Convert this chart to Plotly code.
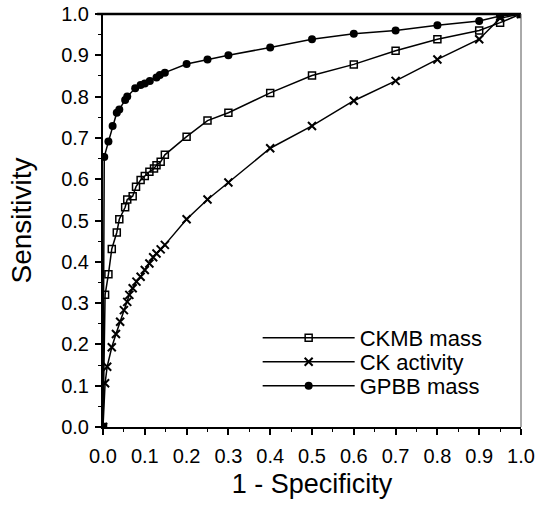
import plotly.graph_objects as go

# CKMB mass (open squares)
ckmb_x = [0.0, 0.005, 0.013, 0.021, 0.033, 0.039, 0.053, 0.058, 0.071, 0.079, 0.09, 0.10, 0.111,
          0.122, 0.128, 0.138, 0.148, 0.20, 0.25, 0.30, 0.40, 0.50, 0.60, 0.70, 0.80, 0.90, 0.95, 1.0]
ckmb_y = [0.0, 0.32, 0.37, 0.431, 0.471, 0.503, 0.532, 0.551, 0.559, 0.582, 0.598, 0.608, 0.618,
          0.626, 0.634, 0.642, 0.659, 0.703, 0.742, 0.761, 0.809, 0.851, 0.878, 0.911, 0.939, 0.96, 0.979, 1.0]

# CK activity (x markers)
ck_x = [0.0, 0.005, 0.01, 0.021, 0.031, 0.041, 0.05, 0.058, 0.063, 0.071, 0.08, 0.09, 0.10, 0.111,
        0.12, 0.128, 0.138, 0.148, 0.20, 0.25, 0.30, 0.40, 0.50, 0.60, 0.70, 0.80, 0.90, 0.95, 1.0]
ck_y = [0.0, 0.106, 0.146, 0.193, 0.225, 0.255, 0.283, 0.303, 0.32, 0.336, 0.352, 0.364, 0.38, 0.396,
        0.411, 0.42, 0.43, 0.441, 0.503, 0.551, 0.592, 0.675, 0.729, 0.79, 0.838, 0.89, 0.939, 0.99, 1.0]

# GPBB mass (filled circles)
gpbb_x = [0.0, 0.003, 0.013, 0.023, 0.033, 0.039, 0.053, 0.058, 0.077, 0.09, 0.10, 0.112, 0.128,
          0.136, 0.148, 0.20, 0.25, 0.30, 0.40, 0.50, 0.60, 0.70, 0.80, 0.90, 0.95, 1.0]
gpbb_y = [0.0, 0.654, 0.691, 0.729, 0.761, 0.769, 0.792, 0.80, 0.82, 0.828, 0.832, 0.838, 0.846,
          0.852, 0.858, 0.879, 0.89, 0.90, 0.919, 0.939, 0.952, 0.96, 0.973, 0.983, 0.995, 1.0]

tick_vals = [i / 10 for i in range(11)]
tick_text = ["0.0", "0.1", "0.2", "0.3", "0.4", "0.5", "0.6", "0.7", "0.8", "0.9", "1.0"]

FONT = "Liberation Sans, Arial, Helvetica, sans-serif"

fig = go.Figure()
fig.add_trace(go.Scatter(
    x=ckmb_x, y=ckmb_y, name="CKMB mass", mode="lines+markers", legend="legend",
    line=dict(color="black", width=1.5),
    marker=dict(symbol="square-open", size=7, color="black", line=dict(width=1.5)),
))
fig.add_trace(go.Scatter(
    x=ck_x, y=ck_y, name="CK activity", mode="lines+markers", legend="legend2",
    line=dict(color="black", width=1.5),
    marker=dict(symbol="x-thin-open", size=8, color="black", line=dict(width=2)),
))
fig.add_trace(go.Scatter(
    x=gpbb_x, y=gpbb_y, name="GPBB mass", mode="lines+markers", legend="legend3",
    line=dict(color="black", width=1.5),
    marker=dict(symbol="circle", size=8, color="black"),
))

leg_common = dict(x=0.37, xanchor="left", yanchor="middle",
                  bgcolor="rgba(0,0,0,0)", borderwidth=0,
                  font=dict(size=22), itemwidth=92)

fig.update_layout(
    width=548, height=515,
    margin=dict(l=103, r=27, t=14, b=88),
    paper_bgcolor="white", plot_bgcolor="white",
    font=dict(family=FONT, size=20, color="black"),
    showlegend=True,
    legend=dict(y=0.2155, **leg_common),
    legend2=dict(y=0.1574, **leg_common),
    legend3=dict(y=0.0993, **leg_common),
    xaxis=dict(
        range=[0, 1.0], tickvals=tick_vals, ticktext=tick_text,
        showgrid=False, zeroline=False, automargin=False,
        showline=True, linecolor="black", linewidth=2,
        ticks="outside", ticklen=6, tickwidth=1.5, tickcolor="black",
        minor=dict(dtick=0.05, ticks="outside", ticklen=3, tickwidth=1.2, tickcolor="black"),
        ticklabelstandoff=4,
        title=dict(text="1 - Specificity", font=dict(size=27), standoff=8),
    ),
    yaxis=dict(
        range=[0, 1.0], tickvals=tick_vals, ticktext=tick_text,
        showgrid=False, zeroline=False, automargin=False,
        showline=True, linecolor="black", linewidth=2,
        ticks="outside", ticklen=6, tickwidth=1.5, tickcolor="black",
        minor=dict(dtick=0.05, ticks="outside", ticklen=3, tickwidth=1.2, tickcolor="black"),
        ticklabelstandoff=2,
        title=dict(text="Sensitivity", font=dict(size=28), standoff=21),
    ),
    shapes=[
        dict(type="line", xref="paper", yref="paper", x0=-0.014, x1=1, y0=1, y1=1,
             line=dict(color="black", width=2.5)),
        dict(type="line", xref="paper", yref="paper", x0=1, x1=1, y0=0, y1=1,
             line=dict(color="#555555", width=1)),
    ],
)

fig.write_html("out.html", config={"displayModeBar": False},
               post_script="document.body.style.margin='0';")
